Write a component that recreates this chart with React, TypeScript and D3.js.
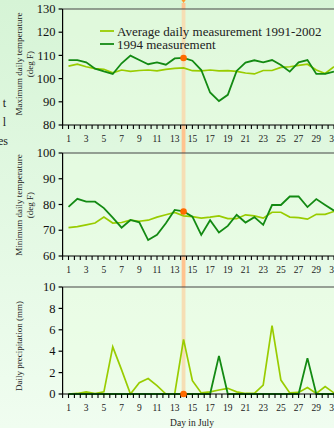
import React from 'react';
import * as d3 from 'd3';

// Day-of-July readings
const days = d3.range(1, 32);

const maxAverage = [105.4, 106.2, 105.1, 104.3, 104, 102.5, 103.7, 103.1, 103.5, 103.7, 103.3, 104, 104.4, 104.6, 103.4, 103.3, 103.7, 103.3, 103.4, 103.1, 102.4, 102, 103.5, 103.5, 104.8, 105.1, 105.7, 106.2, 103.7, 102.2, 105.1];
const max1994 = [108, 108, 107, 104.3, 103.1, 102, 106.6, 109.9, 108, 106.2, 107, 106, 108.7, 108.9, 107.7, 103.7, 94, 90.3, 93, 103.3, 106.9, 107.9, 107, 108, 105.9, 103, 107, 108, 102, 102, 103];

const minAverage = [71, 71.4, 72.1, 72.8, 75.1, 72.8, 73, 73.9, 73.5, 73.9, 75.1, 76, 76.9, 75.6, 75.3, 74.7, 75.1, 75.6, 74.5, 74.5, 76, 75.6, 74.7, 77, 77, 75.1, 74.9, 74.3, 76.2, 76.2, 77.3];
const min1994 = [79.1, 82.2, 81.1, 81.1, 78.6, 74.9, 71, 74, 73.1, 66.2, 68.2, 72.7, 77.9, 77.3, 75.3, 68.2, 73.9, 69.1, 71.7, 76, 73, 75.1, 72.1, 79.8, 79.8, 83.1, 83.1, 79, 82.1, 79.8, 77.6];

const precipAverage = [0, 0.05, 0.2, 0.05, 0.2, 4.4, 2.25, 0, 1.06, 1.44, 0.78, 0, 0, 5.1, 1.25, 0.1, 0.2, 0.375, 0.53, 0.2, 0.05, 0.05, 0.84, 6.4, 1.3, 0.1, 0.15, 0.6, 0.05, 0.7, 0.1];
const precip1994 = [0, 0, 0, 0, 0, 0, 0, 0, 0, 0, 0, 0, 0, 0, 0, 0, 0, 3.56, 0, 0, 0, 0, 0, 0, 0, 0, 0, 3.35, 0, 0, 0];

const maxTicks = [80, 90, 100, 110, 120, 130];
const minTicks = [60, 70, 80, 90, 100];
const precipTicks = [0, 2, 4, 6, 8, 10];
const dayLabels = d3.range(1, 32, 2);

const selectedDay = 14;

const W = 334;
const H = 428;
const FONT = '"Liberation Serif", "DejaVu Serif", serif';
const LIGHT = '#99cc00';
const DARK = '#138a13';

const x = d3.scaleLinear().domain([1, 31]).range([68.5, 334]);
const xLeft = x(1 / 3);
const minorTicks = d3.range(1 / 3, 32.5, 2 / 3);

type PanelProps = {
  top: number;
  bottom: number;
  domain: [number, number];
  ticks: number[];
  avg: number[];
  cur: number[];
  title: string[];
  titleY: number;
};

function Panel({ top, bottom, domain, ticks, avg, cur, title, titleY }: PanelProps) {
  const y = d3.scaleLinear().domain(domain).range([bottom, top]);
  const line = d3.line<number>().x((d, i) => x(days[i])).y(d => y(d));
  const i = selectedDay - 1;
  return (
    <g>
      <rect x={xLeft} y={top} width={W - xLeft + 10} height={bottom - top} fill="#ecffe2" opacity={0.45} />
      <line x1={xLeft} x2={W + 10} y1={top} y2={top} stroke="#444" strokeWidth={1} />
      <path d={line(avg) || ''} fill="none" stroke={LIGHT} strokeWidth={1.7} />
      <path d={line(cur) || ''} fill="none" stroke={DARK} strokeWidth={1.8} />
      <line x1={xLeft} x2={xLeft} y1={top} y2={bottom} stroke="#000" strokeWidth={1.2} />
      <line x1={xLeft} x2={W + 10} y1={bottom} y2={bottom} stroke="#000" strokeWidth={1.2} />
      {ticks.map(t => (
        <g key={t}>
          <line x1={xLeft - 4} x2={xLeft} y1={y(t)} y2={y(t)} stroke="#000" strokeWidth={1.2} />
          <text x={xLeft - 7} y={y(t) + 4.2} textAnchor="end" fontSize={12.5} fontFamily={FONT} fill="#111">{t}</text>
        </g>
      ))}
      {minorTicks.map(d => (
        <line key={d} x1={x(d)} x2={x(d)} y1={bottom} y2={bottom + 4} stroke="#000" strokeWidth={1.1} />
      ))}
      {dayLabels.map(d => (
        <text key={d} x={x(d)} y={bottom + 17} textAnchor="middle" fontSize={9.5} fontFamily={FONT} fill="#222">{d}</text>
      ))}
      <g transform={`translate(0,${titleY}) rotate(-90)`}>
        {title.map((t, k) => (
          <text key={k} x={0} y={22 + k * 10.5} textAnchor="middle" fontSize={9} fontFamily={FONT} fill="#222">{t}</text>
        ))}
      </g>
      <circle cx={x(selectedDay)} cy={y(cur[i])} r={3.3} fill="#ff6a00" />
    </g>
  );
}

export default function App() {
  const xs = x(selectedDay);
  return (
    <div style={{ position: 'fixed', left: 0, top: 0, width: W, height: H }}>
      <svg width={W} height={H} style={{ display: 'block' }}>
        <defs>
          <linearGradient id="bg" x1="0" y1="0" x2="0" y2="1">
            <stop offset="0" stopColor="#d6f4d6" />
            <stop offset="1" stopColor="#f0fdf0" />
          </linearGradient>
        </defs>
        <rect x={0} y={0} width={W} height={H} fill="url(#bg)" />
        {/* fragments of neighbouring text */}
        <text x={6} y={107} textAnchor="end" fontSize={12} fontFamily={FONT} fill="#222">t</text>
        <text x={6} y={126} textAnchor="end" fontSize={12} fontFamily={FONT} fill="#222">l</text>
        <text x={8} y={145} textAnchor="end" fontSize={12} fontFamily={FONT} fill="#222">es</text>

        {/* selected day band, drawn under the panels' lines */}
        <line x1={xs} x2={xs} y1={3} y2={394} stroke="#ffc38f" strokeWidth={3.8} />
        <path d={`M${xs - 5},-4 L${xs + 5},-4 L${xs},3 Z`} fill="#ff9a2a" />

        <Panel top={9} bottom={125} domain={[80, 130]} ticks={maxTicks} avg={maxAverage} cur={max1994}
          title={['Maximum daily temperature', '(deg F)']} titleY={64} />
        <Panel top={153} bottom={256} domain={[60, 100]} ticks={minTicks} avg={minAverage} cur={min1994}
          title={['Minimum daily temperature', '(deg F)']} titleY={205} />
        <Panel top={287} bottom={394} domain={[0, 10]} ticks={precipTicks} avg={precipAverage} cur={precip1994}
          title={['Daily precipitation (mm)']} titleY={346} />

        {/* legend */}
        <line x1={100} x2={114} y1={31} y2={31} stroke={LIGHT} strokeWidth={1.8} />
        <text x={117} y={35.5} fontSize={13} fontFamily={FONT} fill="#222">Average daily measurement 1991-2002</text>
        <line x1={100} x2={114} y1={44} y2={44} stroke={DARK} strokeWidth={1.8} />
        <text x={117} y={48.5} fontSize={13} fontFamily={FONT} fill="#222">1994 measurement</text>

        <text x={192} y={426} textAnchor="middle" fontSize={9.5} fontFamily={FONT} fill="#222">Day in July</text>
      </svg>
    </div>
  );
}
